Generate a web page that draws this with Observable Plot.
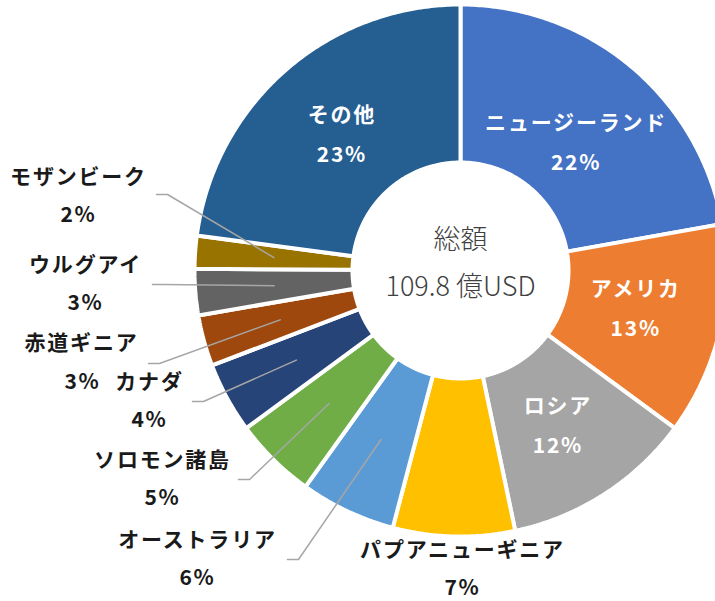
<!DOCTYPE html>
<html>
<head>
<meta charset="utf-8">
<script src="https://cdn.jsdelivr.net/npm/d3@7"></script>
<script src="https://cdn.jsdelivr.net/npm/@observablehq/plot@0.6"></script>
<style>
  html, body { margin: 0; padding: 0; background: #fff; }
  #chart svg { display: block; }
  #chart text { font-family: "Noto Sans CJK JP", "Noto Sans", sans-serif; }
</style>
</head>
<body>
<div id="chart"></div>
<script>
// ---- data ----
const names = ["ニュージーランド", "アメリカ", "ロシア", "パプアニューギニア", "オーストラリア",
               "ソロモン諸島", "カナダ", "赤道ギニア", "ウルグアイ", "モザンビーク", "その他"];
const shares = [22.2, 12.9, 11.6, 7.4, 5.8, 5.0, 4.3, 3.1, 2.8, 2.0, 22.9];
const colors = ["#4472C4", "#ED7D31", "#A5A5A5", "#FFC000", "#5B9BD5",
                "#70AD47", "#264478", "#9E480E", "#636363", "#997300", "#255E91"];
const insideNames = ["ニュージーランド", "アメリカ", "ロシア", "その他"];
const centerTitle = "総額";
const centerTotal = "109.8 億USD";

// ---- layout (pixels) ----
const W = 715, H = 601, cx = 460, cy = 270, R = 266, r0 = 108;
// small vertical nudges of the inside labels (pixels, down positive)
const insideNudge = {"ニュージーランド": 11, "アメリカ": -2, "ロシア": 4, "その他": 0};
// outside label positions (name line center) and leader start points
const outsideLayout = {
  "パプアニューギニア": {lx: 462, ly: 550, sx: null, sy: null},
  "オーストラリア": {lx: 197, ly: 540, sx: 287, sy: 559},
  "ソロモン諸島": {lx: 162, ly: 460, sx: 238, sy: 479},
  "カナダ": {lx: 149, ly: 382, sx: 192, sy: 401},
  "赤道ギニア": {lx: 81, ly: 343, sx: 148, sy: 363},
  "ウルグアイ": {lx: 85, ly: 265, sx: 152, sy: 284},
  "モザンビーク": {lx: 78, ly: 177, sx: 156, sy: 194}
};
const pctGap = 38;

// ---- derived geometry (in pixel units relative to center, y up) ----
const totalShare = d3.sum(shares);
let acc = 0;
const slices = names.map((name, i) => {
  const a0 = acc / totalShare * 2 * Math.PI;
  acc += shares[i];
  const a1 = acc / totalShare * 2 * Math.PI;
  return {name, share: shares[i], a0, a1, mid: (a0 + a1) / 2, pct: Math.round(shares[i]) + "%"};
});
const pol = (rad, a) => ({x: rad * Math.sin(a), y: rad * Math.cos(a)});

const polyPts = [];
for (const s of slices) {
  const n = Math.max(4, Math.ceil((s.a1 - s.a0) / 0.01));
  const pts = [];
  for (let k = 0; k <= n; k++) pts.push(pol(R, s.a0 + (s.a1 - s.a0) * k / n));
  for (let k = n; k >= 0; k--) pts.push(pol(r0, s.a0 + (s.a1 - s.a0) * k / n));
  pts.push(pts[0]);
  for (const p of pts) polyPts.push({name: s.name, ...p});
}

const toX = px => px - cx;
const toY = py => cy - py;

const insideLabels = [];
const rLab = 180;
for (const s of slices.filter(s => insideNames.includes(s.name))) {
  const p = pol(rLab, s.mid);
  const nud = insideNudge[s.name] || 0;
  insideLabels.push({x: p.x, y: p.y + 20 - nud, text: s.name});
  insideLabels.push({x: p.x, y: p.y - 20 - nud, text: s.pct});
}

const outsideLabels = [];
const leaderPts = [];
const rMid = (R + r0) / 2;
for (const s of slices) {
  const L = outsideLayout[s.name];
  if (!L) continue;
  outsideLabels.push({x: toX(L.lx), y: toY(L.ly), text: s.name});
  if (s.name === "赤道ギニア") {
    outsideLabels.push({x: toX(L.lx + 1), y: toY(L.ly + 39), text: s.pct});
  } else {
    outsideLabels.push({x: toX(L.lx), y: toY(L.ly + pctGap), text: s.pct});
  }
  if (L.sx != null) {
    const end = pol(rMid, s.mid);
    leaderPts.push({name: s.name, x: toX(L.sx), y: toY(L.sy)});
    leaderPts.push({name: s.name, x: toX(L.sx + 11), y: toY(L.sy)});
    leaderPts.push({name: s.name, ...end});
  }
}

const centerTexts = [
  {x: 0, y: toY(240), text: centerTitle},
  {x: 0, y: toY(287), text: centerTotal}
];

const chart = Plot.plot({
  width: W,
  height: H,
  margin: 0,
  x: {domain: [-cx, W - cx], axis: null},
  y: {domain: [-(H - cy), cy], axis: null},
  color: {domain: names, range: colors},
  marks: [
    Plot.line(polyPts, {x: "x", y: "y", z: "name", fill: "name", stroke: "white",
                        strokeWidth: 4, strokeLinejoin: "miter", curve: "linear"}),
    Plot.line(leaderPts, {x: "x", y: "y", z: "name", stroke: "#A6A6A6", strokeWidth: 1.5,
                          curve: "linear"}),
    Plot.text(insideLabels, {x: "x", y: "y", text: "text", fill: "white", fontSize: 21,
                             fontWeight: "bold", className: "lbl"}),
    Plot.text(outsideLabels, {x: "x", y: "y", text: "text", fill: "#1a1a1a", fontSize: 21,
                              fontWeight: "bold", className: "lbl"}),
    Plot.text(centerTexts, {x: "x", y: "y", text: "text", fill: "#404040", fontSize: 27,
                            fontWeight: 300})
  ]
});
d3.select(chart).selectAll(".lbl text").style("letter-spacing", "1.8px");
document.getElementById("chart").appendChild(chart);
</script>
</body>
</html>
